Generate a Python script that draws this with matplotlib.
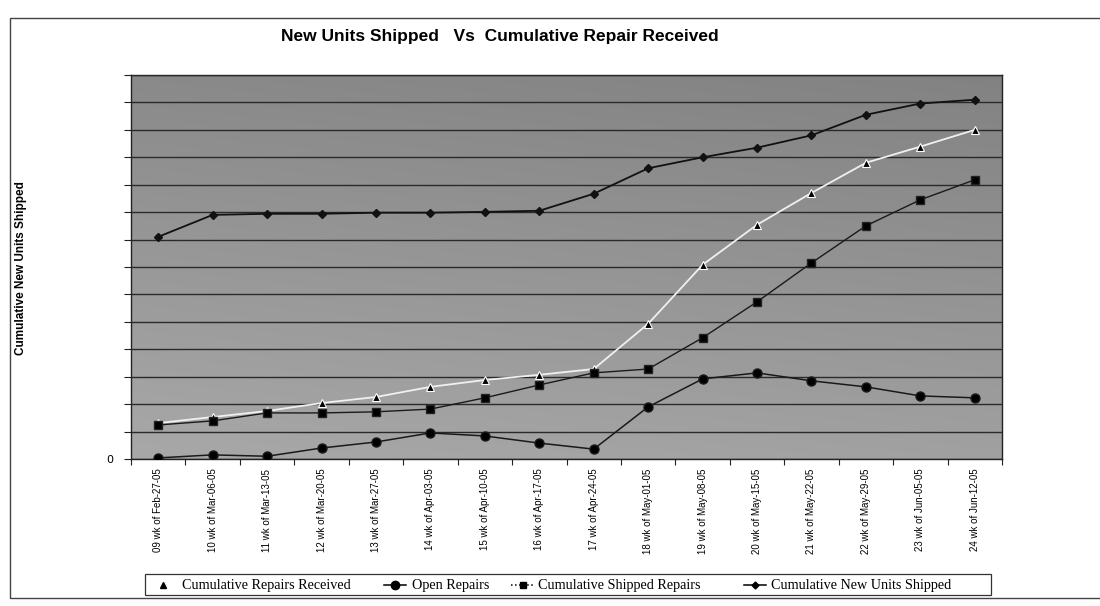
import matplotlib
matplotlib.use("Agg")
import matplotlib.pyplot as plt
import numpy as np
from matplotlib.lines import Line2D
from matplotlib.patches import Rectangle

weeks = ["09 wk of Feb-27-05", "10 wk of Mar-06-05", "11 wk of Mar-13-05", "12 wk of Mar-20-05",
         "13 wk of Mar-27-05", "14 wk of Apr-03-05", "15 wk of Apr-10-05", "16 wk of Apr-17-05",
         "17 wk of Apr-24-05", "18 wk of May-01-05", "19 wk of May-08-05", "20 wk of May-15-05",
         "21 wk of May-22-05", "22 wk of May-29-05", "23 wk of Jun-05-05", "24 wk of Jun-12-05"]

cum_repairs_received = [1.31, 1.53, 1.75, 2.04, 2.26, 2.63, 2.88, 3.07, 3.28, 4.93, 7.08, 8.54, 9.70, 10.80, 11.39, 12.00]
open_repairs = [0.04, 0.15, 0.10, 0.40, 0.62, 0.95, 0.84, 0.58, 0.36, 1.90, 2.92, 3.14, 2.85, 2.63, 2.30, 2.23]
cum_shipped_repairs = [1.24, 1.39, 1.68, 1.68, 1.72, 1.82, 2.23, 2.70, 3.14, 3.28, 4.42, 5.73, 7.15, 8.50, 9.45, 10.18]
cum_new_units = [8.10, 8.90, 8.94, 8.94, 8.98, 8.98, 9.01, 9.05, 9.67, 10.60, 11.00, 11.35, 11.80, 12.55, 12.96, 13.10]

series_labels = ["Cumulative Repairs Received", "Open Repairs", "Cumulative Shipped Repairs",
                 "Cumulative New Units Shipped"]

W, H = 1100, 606
fig = plt.figure(figsize=(11, 6.06), dpi=100)
ax = fig.add_axes([131/W, 1-459/H, (1002-131)/W, (459-75)/H])

x = np.arange(len(weeks))

# gradient background (darker top, lighter lower-left)
gx, gy = np.meshgrid(np.linspace(0, 1, 300), np.linspace(0, 1, 300))
val = 0.66 - 0.12 * gy - 0.03 * gx
rgb = np.dstack([val, val, val])
ax.imshow(rgb, extent=[0, 1, 0, 1], transform=ax.transAxes,
          aspect="auto", zorder=0, origin="lower", interpolation="bilinear")

ax.set_xlim(-0.5, len(weeks) - 0.5)
ax.set_ylim(0, 14)
ax.set_yticks(np.arange(0, 15, 1))
ax.set_yticklabels(["0"] + [""] * 14)
ax.yaxis.grid(True, color="#2a2a2a", lw=1.0, zorder=1)
ax.set_axisbelow(False)

ax.plot(x, cum_new_units, color="#111111", lw=1.3, marker="D", ms=4, zorder=5)
ax.plot(x, cum_repairs_received, color="#f0f0f0", lw=1.3, marker="^", ms=5.5,
        mfc="black", mec="white", mew=0.8, zorder=5)
ax.plot(x, cum_shipped_repairs, color="#1a1a1a", lw=1.0, marker="s", ms=6, mfc="black", mec="#222222", zorder=5)
ax.plot(x, open_repairs, color="#1a1a1a", lw=1.1, marker="o", ms=6.5, mfc="black", zorder=5)

ax.set_xticks(np.arange(-0.5, len(weeks) + 0.5, 1), minor=False)
ax.set_xticklabels([])
ax.set_xticks(x, minor=True)
ax.set_xticklabels(weeks, minor=True, rotation=90, fontsize=7, family="Liberation Sans")
ax.tick_params(axis="x", which="major", length=4, direction="out", color="#222222")
ax.tick_params(axis="x", which="minor", length=0, pad=7)
ax.tick_params(axis="y", length=5, direction="out", color="#222222", labelsize=8, pad=8)
for s in ax.spines.values():
    s.set_color("#222222")
    s.set_linewidth(1.0)

fig.text(500/W, 1-37/H, "New Units Shipped   Vs  Cumulative Repair Received", ha="center", va="center",
         fontsize=12.5, fontweight="bold", family=["Liberation Sans Narrow", "Liberation Sans"])
fig.text(21/W, 1-268/H, "Cumulative New Units Shipped", rotation=90, ha="center", va="center",
         fontsize=8.5, fontweight="bold", family="Liberation Sans")

# outer chart border
fig.patches.append(Rectangle((10/W, 1-598/H), 1.2, (598-18)/H, transform=fig.transFigure,
                             fill=False, ec="#444444", lw=1.0))

# legend box laid out like the original
fig.patches.append(Rectangle((145/W, 1-595/H), (991-145)/W, (595-574)/H, transform=fig.transFigure,
                             fill=True, fc="white", ec="#333333", lw=0.9, zorder=3))
ly = 1-585/H
legend_items = [
    # (handle x0, x1, marker, ms, linestyle, text x)
    (157, 168, "^", 4, "none", 182),
    (384, 406, "o", 6, "-", 412),
    (511, 534, "s", 5, ":", 538),
    (744, 766, "D", 3.5, "-", 771),
]
for (x0, x1, mk, ms, ls, tx), lab in zip(legend_items, series_labels):
    fig.add_artist(Line2D([x0/W, x1/W], [ly, ly], transform=fig.transFigure, color="black",
                          lw=1.1, ls=ls, zorder=4))
    fig.add_artist(Line2D([(x0+x1)/2/W], [ly], transform=fig.transFigure, color="black",
                          lw=0, marker=mk, ms=ms, zorder=4))
    fig.text(tx/W, ly - 1/H, lab, ha="left", va="center", fontsize=10.2,
             family="Liberation Serif", zorder=5)

fig.savefig("out.png", dpi=100)
